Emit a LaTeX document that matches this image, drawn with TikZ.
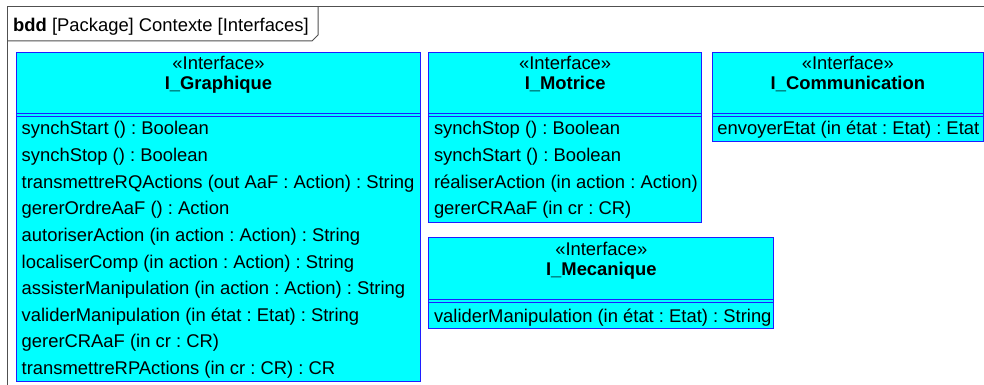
\documentclass[tikz,border=0pt]{standalone}
\usepackage{fontspec}
\setmainfont{Liberation Sans}
\frenchspacing
\usetikzlibrary{%
	calc,%
	positioning,%
}
\definecolor{cifacefill}{RGB}{0, 255, 255}
\definecolor{cifaceline}{RGB}{30, 30, 255}
\definecolor{cframe}{RGB}{80, 80, 80}
\tikzset{
	nodes={font={\fontsize{18.4}{26.6}\selectfont}},%
	iface/.style={%
			draw=cifaceline,%
			fill=cifacefill,%
			rectangle,%
			line width=1pt,%
			inner sep=0,%
			anchor=north west},%
	stereo/.style={%
			anchor=base,%
			inner sep=0},%
	ifname/.style={%
			anchor=base,%
			inner sep=0,%
			font={\fontsize{18.4}{26.6}\selectfont\bfseries}},%
	opnode/.style={%
			anchor=base west,%
			inner sep=0},%
	sepline/.style={%
			draw=cifaceline,%
			line width=0.8pt},%
	frame/.style={%
			draw=cframe,%
			line width=1pt},%
}
\newcommand{\ifacehead}[2]{%
	\node[stereo] (#1-st) at ($(#1.north)+(0,18)$) {«Interface»};
	\node[ifname] (#1-nm) at ($(#1.north)+(0,38)$) {#2};
	\draw[sepline] ([yshift=-62pt]#1.north west) -- ([yshift=-62pt]#1.north east);
	\draw[sepline] ([yshift=-65pt]#1.north west) -- ([yshift=-65pt]#1.north east);
}
\begin{document}
\begin{tikzpicture}[x=1pt, y=-1pt]
	\useasboundingbox (0,0) rectangle (984,385);

	% frame of the diagram
	\draw[frame] (7,386) -- (7,7) -- (985,7);
	\draw[frame] (7,41) -- (312,41) -- (318,35) -- (318,7);
	\node[opnode] (title) at (13,32) {\textbf{bdd} [Package] Contexte [Interfaces]};

	% interfaces
	\node[iface, minimum width=404pt, minimum height=329.3pt] (graph) at (16,51.7) {};
	\node[iface, minimum width=272.7pt, minimum height=170.3pt] (motr) at (428.3,51.7) {};
	\node[iface, minimum width=271.3pt, minimum height=89.3pt] (comm) at (711.7,51.7) {};
	\node[iface, minimum width=345pt, minimum height=91pt] (meca) at (428.3,237) {};

	\ifacehead{graph}{I\_Graphique}
	\ifacehead{motr}{I\_Motrice}
	\ifacehead{comm}{I\_Communication}
	\ifacehead{meca}{I\_Mecanique}

	% operations
	\foreach \op [count=\i from 0] in {%
			synchStart () : Boolean,%
			synchStop () : Boolean,%
			transmettreRQActions (out AaF : Action) : String,%
			gererOrdreAaF () : Action,%
			autoriserAction (in action : Action) : String,%
			localiserComp (in action : Action) : String,%
			assisterManipulation (in action : Action) : String,%
			validerManipulation (in état : Etat) : String,%
			gererCRAaF (in cr : CR),%
			transmettreRPActions (in cr : CR) : CR}
		\node[opnode] (graph-op\i) at ($(graph.north west)+(5.5,83.3+26.6*\i)$) {\op};

	\foreach \op [count=\i from 0] in {%
			synchStop () : Boolean,%
			synchStart () : Boolean,%
			réaliserAction (in action : Action),%
			gererCRAaF (in cr : CR)}
		\node[opnode] (motr-op\i) at ($(motr.north west)+(5.5,83.3+26.6*\i)$) {\op};

	\node[opnode] (comm-op0) at ($(comm.north west)+(5.5,83.3)$) {envoyerEtat (in état : Etat) : Etat};
	\node[opnode] (meca-op0) at ($(meca.north west)+(5.5,85)$) {validerManipulation (in état : Etat) : String};
\end{tikzpicture}
\end{document}
